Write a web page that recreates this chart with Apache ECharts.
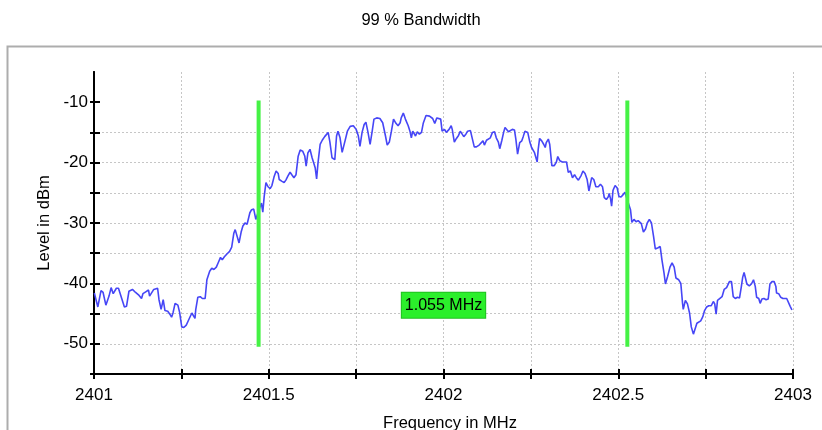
<!DOCTYPE html>
<html>
<head>
<meta charset="utf-8">
<title>99 % Bandwidth</title>
<script src="https://cdn.jsdelivr.net/npm/echarts@6/dist/echarts.min.js"></script>
<style>
html,body{margin:0;padding:0;background:#fff;}
#chart{width:822px;height:430px;}
</style>
</head>
<body>
<div id="chart"></div>
<script>
// spectrum trace
var freqMHz = [
 2401.001,2401.011,2401.020,2401.026,2401.034,2401.043,2401.049,2401.055,2401.064,2401.070,
 2401.087,2401.093,2401.100,2401.110,2401.119,2401.129,2401.136,2401.140,2401.148,2401.156,
 2401.159,2401.163,2401.171,2401.182,2401.186,2401.192,2401.198,2401.203,2401.211,2401.217,
 2401.222,2401.226,2401.232,2401.240,2401.245,2401.251,2401.257,2401.264,2401.272,2401.280,
 2401.285,2401.289,2401.291,2401.297,2401.304,2401.310,2401.318,2401.323,2401.331,2401.337,
 2401.343,2401.350,2401.356,2401.362,2401.367,2401.373,2401.381,2401.388,2401.394,2401.400,
 2401.404,2401.409,2401.415,2401.421,2401.426,2401.432,2401.438,2401.442,2401.446,2401.451,
 2401.457,2401.463,2401.471,2401.479,2401.483,2401.487,2401.492,2401.498,2401.504,2401.509,
 2401.515,2401.521,2401.527,2401.530,2401.538,2401.544,2401.549,2401.555,2401.561,2401.567,
 2401.572,2401.578,2401.584,2401.590,2401.597,2401.603,2401.607,2401.612,2401.618,2401.624,
 2401.630,2401.633,2401.637,2401.641,2401.647,2401.653,2401.660,2401.670,2401.675,2401.681,
 2401.689,2401.694,2401.698,2401.704,2401.710,2401.717,2401.725,2401.733,2401.742,2401.750,
 2401.756,2401.761,2401.767,2401.773,2401.778,2401.784,2401.790,2401.796,2401.801,2401.809,
 2401.818,2401.826,2401.834,2401.839,2401.845,2401.851,2401.857,2401.864,2401.870,2401.876,
 2401.879,2401.885,2401.891,2401.899,2401.904,2401.908,2401.912,2401.916,2401.920,2401.925,
 2401.931,2401.937,2401.942,2401.950,2401.960,2401.969,2401.975,2401.981,2401.986,2401.992,
 2401.996,2402.003,2402.008,2402.016,2402.022,2402.025,2402.031,2402.037,2402.043,2402.048,
 2402.052,2402.058,2402.064,2402.069,2402.077,2402.081,2402.088,2402.094,2402.102,2402.107,
 2402.113,2402.117,2402.123,2402.128,2402.134,2402.140,2402.146,2402.151,2402.157,2402.161,
 2402.167,2402.172,2402.176,2402.180,2402.186,2402.191,2402.197,2402.203,2402.207,2402.212,
 2402.218,2402.224,2402.228,2402.233,2402.237,2402.241,2402.247,2402.252,2402.260,2402.268,
 2402.271,2402.275,2402.281,2402.287,2402.291,2402.294,2402.300,2402.304,2402.310,2402.317,
 2402.323,2402.327,2402.333,2402.340,2402.352,2402.357,2402.363,2402.369,2402.375,2402.380,
 2402.386,2402.394,2402.399,2402.405,2402.411,2402.416,2402.424,2402.430,2402.436,2402.443,
 2402.449,2402.455,2402.460,2402.466,2402.472,2402.474,2402.478,2402.481,2402.485,2402.491,
 2402.497,2402.502,2402.508,2402.514,2402.519,2402.535,2402.539,2402.545,2402.551,2402.557,
 2402.562,2402.566,2402.572,2402.578,2402.583,2402.589,2402.595,2402.601,2402.606,2402.614,
 2402.620,2402.625,2402.631,2402.635,2402.641,2402.648,2402.654,2402.660,2402.665,2402.673,
 2402.679,2402.684,2402.686,2402.692,2402.698,2402.704,2402.709,2402.715,2402.719,2402.725,
 2402.730,2402.736,2402.742,2402.747,2402.753,2402.759,2402.766,2402.772,2402.776,2402.780,
 2402.784,2402.789,2402.797,2402.803,2402.810,2402.818,2402.824,2402.829,2402.835,2402.841,
 2402.847,2402.852,2402.856,2402.860,2402.864,2402.868,2402.875,2402.881,2402.887,2402.892,
 2402.896,2402.902,2402.906,2402.911,2402.917,2402.923,2402.929,2402.934,2402.940,2402.946,
 2402.951,2402.953,2402.959,2402.965,2402.971,2402.976,2402.982,2402.986,2402.992,2402.997
];
var levelDbm = [
 -41.6,-43.9,-41.2,-41.5,-43.6,-42.1,-40.7,-41.7,-40.8,-40.8,
 -43.9,-43.8,-41.3,-41.0,-41.5,-42.0,-42.5,-41.7,-41.4,-41.1,
 -42.1,-42.3,-41.0,-40.8,-42.7,-44.3,-42.7,-44.5,-44.6,-45.1,
 -45.6,-44.9,-43.3,-43.6,-44.8,-47.2,-47.3,-46.9,-45.9,-44.9,
 -44.6,-45.8,-44.4,-42.3,-42.2,-42.5,-42.5,-39.4,-38.0,-37.5,
 -37.7,-37.3,-36.5,-35.7,-36.1,-35.6,-35.1,-34.7,-34.0,-31.7,
 -31.1,-30.9,-33.3,-31.5,-30.5,-30.0,-30.2,-29.9,-28.3,-27.8,
 -27.7,-29.4,-28.0,-26.7,-28.2,-25.6,-23.3,-24.0,-24.3,-23.8,
 -22.4,-21.4,-21.8,-22.8,-23.1,-23.3,-22.9,-22.2,-21.6,-22.1,
 -22.5,-22.0,-19.0,-17.9,-18.1,-18.9,-20.6,-18.4,-17.8,-19.2,
 -20.3,-20.9,-22.7,-20.0,-17.0,-16.3,-15.7,-15.0,-16.6,-19.2,
 -19.5,-15.6,-14.8,-15.9,-18.3,-16.7,-14.8,-14.0,-13.9,-14.5,
 -15.5,-17.3,-15.0,-13.7,-13.3,-15.0,-17.0,-14.8,-12.8,-12.6,
 -12.7,-13.4,-15.6,-17.1,-16.6,-14.8,-12.8,-13.5,-13.9,-13.4,
 -12.6,-11.8,-12.8,-13.9,-14.8,-15.9,-14.8,-14.5,-15.6,-14.9,
 -15.3,-15.0,-13.5,-12.2,-12.3,-12.7,-13.5,-12.6,-12.6,-12.8,
 -14.8,-14.5,-15.0,-14.5,-13.9,-14.5,-16.6,-16.0,-15.5,-14.8,
 -14.5,-15.7,-15.3,-14.8,-14.7,-14.8,-17.4,-17.4,-17.1,-16.9,
 -16.4,-17.1,-16.3,-16.4,-15.9,-15.0,-14.9,-15.9,-16.6,-17.7,
 -16.3,-15.0,-14.2,-13.9,-14.9,-15.0,-14.5,-14.6,-16.1,-18.6,
 -16.7,-16.4,-15.7,-14.8,-14.5,-15.0,-16.6,-17.5,-18.3,-19.9,
 -17.8,-16.0,-16.4,-17.0,-17.5,-16.7,-16.1,-17.0,-20.5,-20.5,
 -19.9,-19.0,-19.7,-19.9,-19.9,-21.6,-21.4,-22.5,-22.0,-22.5,
 -22.9,-22.1,-21.4,-21.8,-22.8,-24.7,-22.5,-22.8,-24.0,-24.0,
 -23.6,-24.0,-25.8,-26.1,-25.6,-25.1,-26.0,-27.2,-24.6,-23.8,
 -24.2,-25.6,-25.7,-25.3,-24.9,-27.8,-29.9,-29.4,-29.8,-29.6,
 -29.4,-30.1,-31.5,-31.0,-30.0,-29.4,-30.0,-32.2,-34.3,-34.1,
 -33.9,-36.1,-38.3,-40.1,-38.9,-37.3,-36.6,-37.3,-39.1,-39.4,
 -40.0,-43.3,-44.3,-42.8,-43.4,-44.9,-47.2,-48.4,-48.4,-46.6,
 -46.3,-46.2,-45.5,-44.5,-43.9,-43.7,-43.7,-43.0,-43.4,-45.1,
 -42.8,-42.6,-42.2,-41.0,-40.7,-39.7,-39.7,-42.2,-42.5,-42.3,
 -42.4,-40.6,-39.0,-38.2,-39.1,-40.1,-40.4,-40.1,-39.4,-40.5,
 -42.3,-42.5,-43.3,-42.6,-42.5,-42.7,-42.6,-40.1,-39.7,-39.7,
 -40.5,-41.6,-41.7,-42.3,-42.5,-42.6,-42.5,-42.5,-43.8,-44.4
];

// 99 % occupied bandwidth markers
var markerFreqs = [2401.471, 2402.526];
var markerLevels = [-9.7, -50.5];
var bwText = '1.055 MHz';
var bwLabelAt = [2402.0, -43.6];

var yTickValues = [-55, -50, -45, -40, -35, -30, -25, -20, -15, -10];

var trace = [];
for (var i = 0; i < freqMHz.length; i++) {
    trace.push([freqMHz[i], levelDbm[i]]);
}

var font = 'Liberation Sans, Arial, Helvetica, sans-serif';
var gridLine = { color: '#c6c6c6', type: [2, 2], width: 1 };
var tickStyle = { color: '#000', width: 2 };
var plainText = { fontFamily: font, fontSize: 16.5, fontWeight: 'normal', color: '#000' };

var series = [{
    name: 'trace',
    type: 'line',
    data: trace,
    symbol: 'none',
    lineStyle: { color: '#4646f6', width: 1.6 },
    z: 2
}];
for (var m = 0; m < markerFreqs.length; m++) {
    series.push({
        type: 'line',
        data: [[markerFreqs[m], markerLevels[0]], [markerFreqs[m], markerLevels[1]]],
        symbol: 'none',
        lineStyle: { color: '#45f245', width: 4, cap: 'butt' },
        z: 3
    });
}
// the bandwidth label sits on the second grid (same box), so that grid and its tick axes get drawn
series.push({
    type: 'scatter',
    xAxisIndex: 1,
    yAxisIndex: 1,
    data: [bwLabelAt],
    symbolSize: 1,
    itemStyle: { color: 'rgba(0,0,0,0)', opacity: 1 },
    label: {
        show: true,
        position: 'inside',
        formatter: bwText,
        color: '#000',
        fontFamily: font,
        fontSize: 16,
        lineHeight: 18,
        backgroundColor: '#2bef2b',
        borderColor: '#1fc01f',
        borderWidth: 1,
        padding: [4, 3, 3, 3]
    },
    z: 5
});

var myChart = echarts.init(document.getElementById('chart'));
myChart.setOption({
    animation: false,
    backgroundColor: '#fff',
    // the x axis title runs off the bottom edge like in the original, so it is a title
    // and not an axis name (an axis name outside the canvas makes the grid shrink)
    title: [{
        text: '99 % Bandwidth',
        left: 421,
        top: 12,
        textAlign: 'center',
        padding: 0,
        textStyle: plainText
    }, {
        text: 'Frequency in MHz',
        left: 450,
        top: 415,
        textAlign: 'center',
        padding: 0,
        textStyle: plainText
    }],
    graphic: [{
        type: 'rect',
        silent: true,
        z: -10,
        shape: { x: 7.5, y: 46.5, width: 900, height: 500 },
        style: { fill: 'none', stroke: '#adadad', lineWidth: 2 }
    }],
    // second grid on the same box carries the inner half of the crossing ticks
    grid: [
        { left: 94, right: 29, top: 72, bottom: 56 },
        { left: 94, right: 29, top: 72, bottom: 56 }
    ],
    xAxis: [{
        type: 'value',
        gridIndex: 0,
        min: 2401,
        max: 2403,
        interval: 0.25,
        axisLine: { show: true, onZero: false, lineStyle: { color: '#000', width: 2 } },
        axisTick: { show: true, inside: false, length: 5, lineStyle: tickStyle },
        axisLabel: {
            color: '#000', fontFamily: font, fontSize: 17, margin: 13,
            formatter: function (v) { return Math.round(v * 4) % 2 === 0 ? String(v) : ''; }
        },
        splitLine: { show: true, lineStyle: gridLine }
    }, {
        type: 'value',
        gridIndex: 1,
        min: 2401,
        max: 2403,
        interval: 0.25,
        axisLine: { show: true, onZero: false, lineStyle: { color: '#000', width: 2 } },
        axisTick: { show: true, inside: true, length: 5, lineStyle: tickStyle },
        axisLabel: { show: false },
        splitLine: { show: false }
    }],
    yAxis: [{
        type: 'value',
        gridIndex: 0,
        min: -55,
        max: -5,
        interval: 5,
        name: 'Level in dBm',
        nameLocation: 'middle',
        nameGap: 39,
        nameTextStyle: { fontFamily: font, fontSize: 16.5, color: '#000' },
        axisLine: { show: true, onZero: false, lineStyle: { color: '#000', width: 2 } },
        axisTick: { show: true, inside: false, length: 4, customValues: yTickValues, lineStyle: tickStyle },
        axisLabel: {
            color: '#000', fontFamily: font, fontSize: 17, margin: 6,
            formatter: function (v) { return (v % 10 === 0 && v > -55) ? String(v) : ''; }
        },
        splitLine: { show: true, showMinLine: false, showMaxLine: false, lineStyle: gridLine }
    }, {
        type: 'value',
        gridIndex: 1,
        min: -55,
        max: -5,
        interval: 5,
        axisLine: { show: true, onZero: false, lineStyle: { color: '#000', width: 2 } },
        axisTick: { show: true, inside: true, length: 6, customValues: yTickValues, lineStyle: tickStyle },
        axisLabel: { show: false },
        splitLine: { show: false }
    }],
    series: series
});
</script>
</body>
</html>
